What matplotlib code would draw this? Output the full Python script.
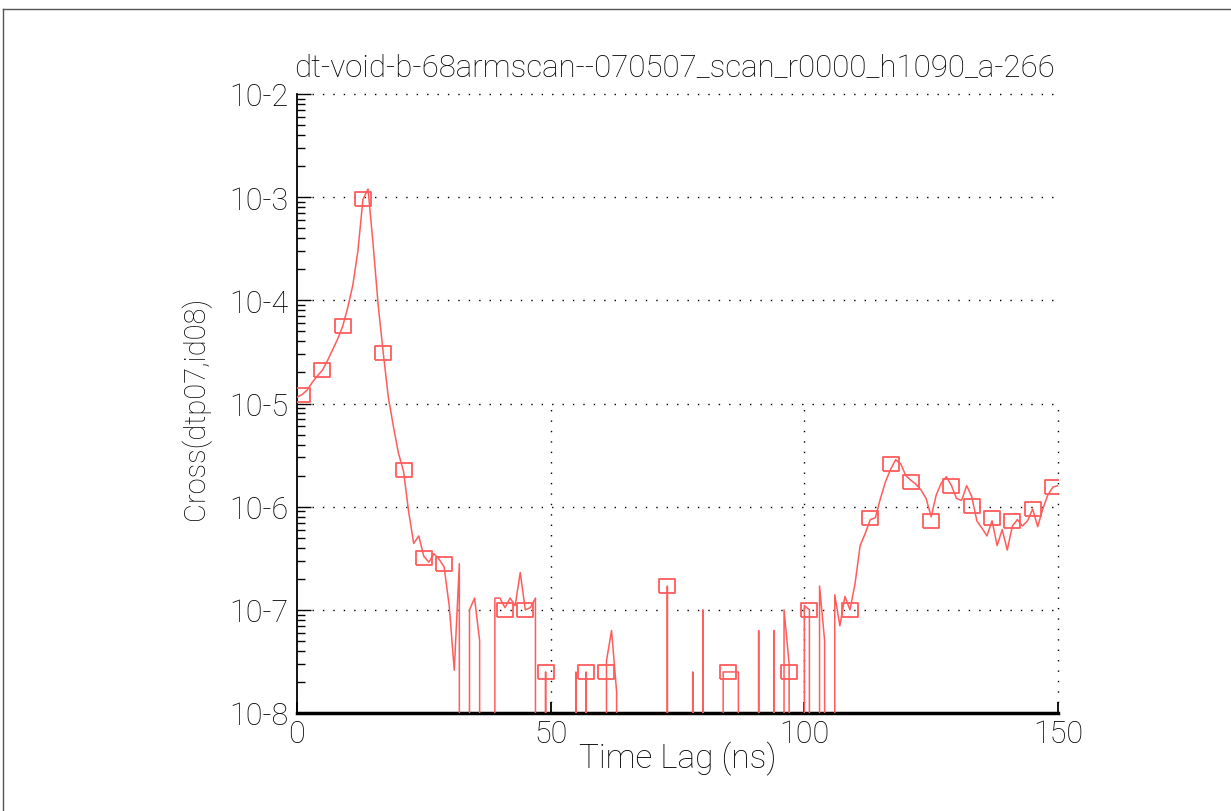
import numpy as np
import matplotlib
matplotlib.use("Agg")
import matplotlib.pyplot as plt
from matplotlib.lines import Line2D
from matplotlib.ticker import FixedLocator, FixedFormatter, LogLocator, NullFormatter

# ---------------- data ----------------
title = "dt-void-b-68armscan--070507_scan_r0000_h1090_a-266"
x_label = "Time Lag (ns)"
y_label = "Cross(dtp07,id08)"
x_ticks = [0, 50, 100, 150]
x_tick_labels = ["0", "50", "100", "150"]
y_ticks = [1e-8, 1e-7, 1e-6, 1e-5, 1e-4, 1e-3, 1e-2]
y_tick_labels = ["10-8", "10-7", "10-6", "10-5", "10-4", "10-3", "10-2"]

lag_ns = np.arange(0, 151)
cross = [
    1.15e-5, 1.22e-5, 1.35e-5, 1.6e-5, 1.85e-5, 2.1e-5, 2.6e-5, 3.3e-5, 4.2e-5, 5.6e-5,      # 0-9
    8.5e-5, 1.4e-4, 3.0e-4, 9.5e-4, 1.2e-3, 3.5e-4, 9.0e-5, 3.1e-5, 1.15e-5, 6.0e-6,        # 10-19
    3.3e-6, 2.2e-6, 9.0e-7, 4.4e-7, 5.2e-7, 3.3e-7, 2.9e-7, 3.5e-7, 3.1e-7, 2.6e-7,          # 20-29
    1.1e-7, 2.6e-8, 2.8e-7, 0, 1.0e-7, 1.3e-7, 5.0e-8, 0, 0, 1.3e-7,                          # 30-39
    1.3e-7, 1.05e-7, 1.3e-7, 1.1e-7, 2.3e-7, 1.0e-7, 1.05e-7, 1.3e-7, 0, 2.5e-8,             # 40-49
    0, 0, 0, 0, 0, 2.5e-8, 0, 2.5e-8, 0, 0,                                                   # 50-59
    0, 3.2e-8, 6.3e-8, 1.6e-8, 0, 0, 0, 0, 0, 0,                                              # 60-69
    0, 0, 0, 1.7e-7, 0, 0, 0, 0, 2.5e-8, 0,                                                   # 70-79
    1.0e-7, 0, 0, 0, 2.5e-8, 2.5e-8, 2.5e-8, 2.5e-8, 0, 0,                                    # 80-89
    0, 6.3e-8, 0, 0, 6.3e-8, 0, 1.0e-7, 3.0e-8, 0, 0,                                         # 90-99
    1.1e-7, 1.0e-7, 0, 1.7e-7, 5.0e-8, 0, 1.4e-7, 7.0e-8, 1.35e-7, 1.0e-7,                   # 100-109
    1.8e-7, 4.2e-7, 5.5e-7, 7.5e-7, 7.8e-7, 1.2e-6, 1.75e-6, 2.3e-6, 2.85e-6, 2.6e-6,       # 110-119
    2.0e-6, 1.8e-6, 1.65e-6, 1.45e-6, 1.2e-6, 8.0e-7, 1.3e-6, 1.7e-6, 1.95e-6, 1.6e-6,      # 120-129
    1.2e-6, 1.15e-6, 1.6e-6, 1.25e-6, 7.3e-7, 6.2e-7, 5.2e-7, 7.3e-7, 4.2e-7, 6.0e-7,       # 130-139
    3.8e-7, 6.5e-7, 7.5e-7, 6.5e-7, 7.3e-7, 9.5e-7, 6.4e-7, 9.5e-7, 1.3e-6, 1.55e-6,        # 140-149
    1.6e-6,                                                                                   # 150
]

marker_lag = [1, 5, 9, 13, 17, 21, 25, 29, 33, 37, 41, 45, 49, 53, 57, 61, 65, 69, 73,
              77, 81, 85, 89, 93, 97, 101, 105, 109, 113, 117, 121, 125, 129, 133, 137,
              141, 145, 149]
marker_cross = [1.22e-5, 2.1e-5, 5.6e-5, 9.7e-4, 3.1e-5, 2.26e-6, 3.2e-7, 2.8e-7, 0, 0,
                1.0e-7, 1.0e-7, 2.5e-8, 0, 2.5e-8, 2.5e-8, 0, 0, 1.7e-7,
                0, 0, 2.5e-8, 0, 0, 2.5e-8, 1.0e-7, 0, 1.0e-7, 7.7e-7, 2.6e-6,
                1.74e-6, 7.3e-7, 1.6e-6, 1.02e-6, 7.7e-7, 7.3e-7, 9.5e-7, 1.55e-6]

assert len(cross) == len(lag_ns)
assert len(marker_lag) == len(marker_cross)

# ---------------- style ----------------
W, H = 1231, 812
RED = "#ff5c5c"
plt.rcParams["font.family"] = ["Roboto", "DejaVu Sans"]
plt.rcParams["font.weight"] = "light"

fig = plt.figure(figsize=(W / 100, H / 100), dpi=100)
fig.patch.set_facecolor("white")

# outer frame (top and left edges visible)
fig.add_artist(Line2D([3 / W, 1.0], [1 - 10 / H, 1 - 10 / H], transform=fig.transFigure,
                      color="#555555", lw=1.0))
fig.add_artist(Line2D([3 / W, 3 / W], [0.0, 1 - 10 / H], transform=fig.transFigure,
                      color="#555555", lw=1.0))

x0, x1, y0, y1 = 297, 1058, 95, 714
ax = fig.add_axes([x0 / W, 1 - y1 / H, (x1 - x0) / W, (y1 - y0) / H])
ax.set_yscale("log")
ax.set_xlim(0, 150)
ax.set_ylim(1e-8, 1e-2)

# grid (dotted, IDL-like)
dot = (0, (1, 6.5))
for yv in y_ticks[1:]:
    ax.plot([3, 150], [yv, yv], color="black", lw=1.0, ls=dot, clip_on=False, zorder=1)
for xv in x_ticks[1:]:
    ax.plot([xv, xv], [1e-8, 1e-5], color="black", lw=1.0, ls=dot, clip_on=False, zorder=1)

# data
ax.plot(lag_ns, cross, color=RED, lw=1.1, zorder=3)
mx = [l for l, v in zip(marker_lag, marker_cross) if v > 0]
my = [v for v in marker_cross if v > 0]
box = [(-1, -0.87), (1, -0.87), (1, 0.87), (-1, 0.87), (-1, -0.87)]
ax.plot(mx, my, ls="none", marker=box, ms=11.5, mfc="none", mec=RED, mew=1.3, zorder=4)

# axes styling
ax.spines["top"].set_visible(False)
ax.spines["right"].set_visible(False)
ax.spines["bottom"].set_linewidth(2.5)
ax.spines["left"].set_linewidth(1.3)

ax.xaxis.set_major_locator(FixedLocator(x_ticks))
ax.xaxis.set_major_formatter(FixedFormatter(x_tick_labels))
ax.yaxis.set_major_locator(FixedLocator(y_ticks))
ax.yaxis.set_major_formatter(FixedFormatter(y_tick_labels))
ax.yaxis.set_minor_locator(LogLocator(base=10, subs=np.arange(2, 10)))
ax.yaxis.set_minor_formatter(NullFormatter())

ax.tick_params(axis="x", direction="in", length=8, width=1.3, labelsize=22, pad=4,
               colors="black")
ax.tick_params(axis="y", which="major", direction="in", length=10, width=1.0,
               labelsize=22, pad=6)
ax.tick_params(axis="y", which="minor", direction="in", length=6, width=1.0)

# texts
fig.text(675 / W, 1 - 68 / H, title, ha="center", va="center", fontsize=22.5, color="black")
fig.text(678 / W, 1 - 759 / H, x_label, ha="center", va="center", fontsize=24, color="black")
fig.text(196 / W, 1 - 408 / H, y_label, ha="center", va="center", fontsize=21,
         rotation=90, color="black")

fig.savefig("out.png", dpi=100)
